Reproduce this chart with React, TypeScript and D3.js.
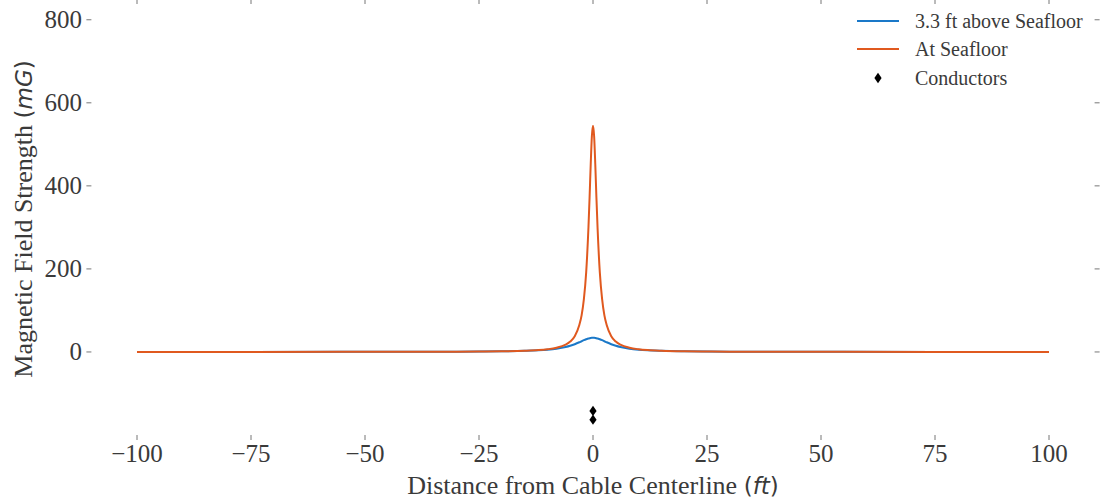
import React from "react";
import * as d3 from "d3";

const distances = [-100,-75,-50,-40,-30,-25,-20,-15,-12,-10,-8,-6,-5,-4,-3,-2.5,-2,-1.5,-1,-0.75,-0.5,-0.25,0,0.25,0.5,0.75,1,1.5,2,2.5,3,4,5,6,8,10,12,15,20,25,30,40,50,75,100];
const above33 = [0.07,0.1,0.3,0.4,0.7,1.0,1.6,2.7,4.0,5.5,7.9,11.9,14.9,18.7,23.3,25.8,28.3,30.5,32.4,33.1,33.7,34.0,34.1,34.0,33.7,33.1,32.4,30.5,28.3,25.8,23.3,18.7,14.9,11.9,7.9,5.5,4.0,2.7,1.6,1.0,0.7,0.4,0.3,0.1,0.07];
const atSeafloor = [0.07,0.1,0.3,0.4,0.7,1.1,1.6,2.9,4.5,6.5,10.1,17.7,25,38,65,88,127,191,299,372,452,519,545,519,452,372,299,191,127,88,65,38,25,17.7,10.1,6.5,4.5,2.9,1.6,1.1,0.7,0.4,0.3,0.1,0.07];
const conductorX = [0, 0];
const conductorY = [-142, -163];
const xTicks = [-100, -75, -50, -25, 0, 25, 50, 75, 100];
const yTicks = [0, 200, 400, 600, 800];
const seriesNames = ["3.3 ft above Seafloor", "At Seafloor", "Conductors"];

const W = 1103, H = 499;
const L = 91.4, R = 1094.6, T = 4, B = 435;
const BLUE = "#1a78c8";
const ORANGE = "#e0591f";
const TEXT = "#3a3a3a";
const TICK = "#777777";
const SERIF = "'Liberation Serif', 'Times New Roman', serif";
const SANS = "'DejaVu Sans', sans-serif";

export default function App() {
  const x = d3.scaleLinear().domain([-110, 110]).range([L, R]);
  const y = d3.scaleLinear().domain([-200, 838]).range([B, T]);
  const line = d3
    .line<number>()
    .x((_, i) => x(distances[i]))
    .y((d) => y(d))
    .curve(d3.curveMonotoneX);
  const diamond = (cx: number, cy: number, w = 3.6, h = 5.2) =>
    `M${cx},${cy - h}L${cx + w},${cy}L${cx},${cy + h}L${cx - w},${cy}Z`;

  return (
    <div style={{ position: "absolute", left: 0, top: 0 }}>
      <svg width={W} height={H} style={{ display: "block", background: "#fff" }}>
        {xTicks.map((t) => (
          <g key={"xt" + t}>
            <line x1={x(t)} x2={x(t)} y1={B} y2={B + 5} stroke={TICK} strokeWidth={1} />
            <line x1={x(t)} x2={x(t)} y1={T} y2={T - 5} stroke={TICK} strokeWidth={1} />
            <text x={x(t)} y={462} textAnchor="middle" fontFamily={SERIF} fontSize={25} fill={TEXT}>
              {t < 0 ? "\u2212" + Math.abs(t) : String(t)}
            </text>
          </g>
        ))}
        {yTicks.map((t) => (
          <g key={"yt" + t}>
            <line x1={L} x2={L - 5} y1={y(t)} y2={y(t)} stroke={TICK} strokeWidth={1} />
            <line x1={R} x2={R + 5} y1={y(t)} y2={y(t)} stroke={TICK} strokeWidth={1} />
            <text x={82} y={y(t)} dy="0.34em" textAnchor="end" fontFamily={SERIF} fontSize={25} fill={TEXT}>
              {String(t)}
            </text>
          </g>
        ))}
        <text x={593} y={494} textAnchor="middle" fontFamily={SERIF} fontSize={26} fill={TEXT}>
          Distance from Cable Centerline{" "}
          <tspan fontFamily={SANS} fontSize={23}>(</tspan>
          <tspan fontFamily={SANS} fontSize={23} fontStyle="italic">ft</tspan>
          <tspan fontFamily={SANS} fontSize={23}>)</tspan>
        </text>
        <text
          transform={`translate(32,219) rotate(-90)`}
          textAnchor="middle"
          fontFamily={SERIF}
          fontSize={26}
          fill={TEXT}
        >
          Magnetic Field Strength{" "}
          <tspan fontFamily={SANS} fontSize={23}>(</tspan>
          <tspan fontFamily={SANS} fontSize={23} fontStyle="italic">mG</tspan>
          <tspan fontFamily={SANS} fontSize={23}>)</tspan>
        </text>
        <path d={line(above33) || ""} fill="none" stroke={BLUE} strokeWidth={2} />
        <path d={line(atSeafloor) || ""} fill="none" stroke={ORANGE} strokeWidth={2} />
        {conductorX.map((cx, i) => (
          <path key={"c" + i} d={diamond(x(cx), y(conductorY[i]))} fill="#000" />
        ))}
        <g>
          <line x1={857} x2={899} y1={21} y2={21} stroke={BLUE} strokeWidth={2} />
          <text x={915} y={21} dy="0.33em" fontFamily={SERIF} fontSize={20} fill={TEXT}>{seriesNames[0]}</text>
          <line x1={857} x2={899} y1={49} y2={49} stroke={ORANGE} strokeWidth={2} />
          <text x={915} y={49} dy="0.33em" fontFamily={SERIF} fontSize={20} fill={TEXT}>{seriesNames[1]}</text>
          <path d={diamond(878, 78)} fill="#000" />
          <text x={915} y={78} dy="0.33em" fontFamily={SERIF} fontSize={20} fill={TEXT}>{seriesNames[2]}</text>
        </g>
      </svg>
    </div>
  );
}
